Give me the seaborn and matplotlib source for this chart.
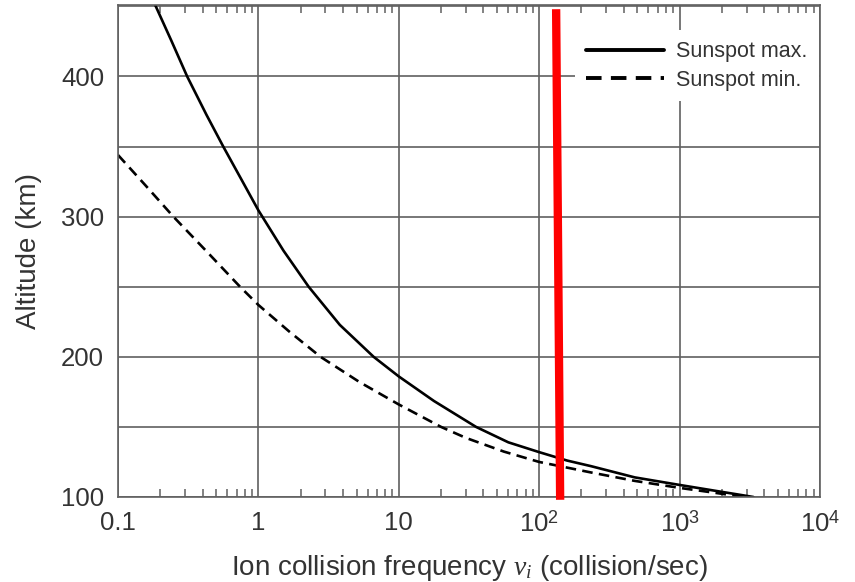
import matplotlib
matplotlib.use("Agg")
import matplotlib.pyplot as plt
import matplotlib.ticker as mticker
import seaborn as sns
import pandas as pd
import numpy as np

# Data
solid_freq = [0.184, 0.24, 0.311, 0.427, 0.562, 0.759, 1.0, 1.51, 2.28, 3.8, 6.62, 10,
              17.8, 35.5, 60.3, 100, 158, 234, 479, 1000, 1778, 3357]
solid_alt = [451, 425.5, 400, 372.6, 350, 326.3, 304.5, 275.7, 250, 222.8, 200, 186,
             168.5, 150, 139, 132, 126, 122, 114, 108.6, 104.5, 100]
dashed_freq = [0.1, 0.158, 0.248, 0.427, 0.74, 1.0, 1.66, 2.77, 5.25, 10, 20, 30, 56,
               100, 234, 479, 1000, 1700, 2884]
dashed_alt = [344, 322, 300, 275.3, 250, 237, 218, 200, 182, 166, 150, 142.2, 132.4,
              125, 117.5, 111.5, 106.5, 103.3, 100]
marker_freq = [132, 141]
marker_alt = [448, 98]

series_labels = ["Sunspot max.", "Sunspot min."]
x_ticks = [0.1, 1, 10, 100, 1000, 10000]
x_tick_labels = ["0.1", "1", "10", r"$10^2$", r"$10^3$", r"$10^4$"]
y_grid = [100, 150, 200, 250, 300, 350, 400, 450]
y_tick_labels = ["100", "", "200", "", "300", "", "400", ""]

sns.set_style("white")
plt.rcParams['font.family'] = ['Liberation Sans', 'DejaVu Sans']
plt.rcParams['mathtext.fontset'] = 'custom'
plt.rcParams['mathtext.rm'] = 'Liberation Sans'
plt.rcParams['mathtext.it'] = 'Liberation Serif:italic'

fig = plt.figure(figsize=(8.55, 5.82), dpi=100)
ax = fig.add_axes([118/855, 1-497/582, (820-118)/855, (497-5)/582])

df_max = pd.DataFrame({"freq": solid_freq, "alt": solid_alt})
df_min = pd.DataFrame({"freq": dashed_freq, "alt": dashed_alt})

sns.lineplot(data=df_max, x="freq", y="alt", ax=ax, color="black", lw=1.9,
             label=series_labels[0], sort=False, estimator=None)
sns.lineplot(data=df_min, x="freq", y="alt", ax=ax, color="black", lw=1.9,
             label=series_labels[1], sort=False, estimator=None)
ax.lines[1].set_dashes([4, 2.4])
for ln in ax.lines[:2]:
    ln.set_solid_joinstyle("round")
    ln.set_dash_joinstyle("round")

ax.plot(marker_freq, marker_alt, color="#ff0000", lw=6, clip_on=False,
        solid_capstyle="butt", zorder=6)

ax.set_xscale("log")
ax.set_xlim(0.1, 10000)
ax.set_ylim(100, 451)

gc = "#606060"
ax.xaxis.set_major_locator(mticker.FixedLocator(x_ticks))
ax.xaxis.set_major_formatter(mticker.FixedFormatter(x_tick_labels))
ax.xaxis.set_minor_locator(mticker.LogLocator(base=10, subs=np.arange(2, 10)))
ax.xaxis.set_minor_formatter(mticker.NullFormatter())
ax.yaxis.set_major_locator(mticker.FixedLocator(y_grid))
ax.yaxis.set_major_formatter(mticker.FixedFormatter(y_tick_labels))

ax.grid(True, which="major", color=gc, lw=1.2)
ax.tick_params(axis="both", which="major", length=0, labelsize=18.5,
               labelcolor="#333333", pad=10)
ax.tick_params(axis="x", which="minor", direction="in", length=6, width=1.1,
               color=gc, top=True, bottom=True)
for s in ax.spines.values():
    s.set_color(gc)
    s.set_linewidth(1.2)

ax.set_xlabel(r"Ion collision frequency $\nu_i$ (collision/sec)", fontsize=20,
              color="#333333", labelpad=12)
ax.set_ylabel("Altitude (km)", fontsize=20, color="#333333", labelpad=14)

leg = ax.legend(loc="upper right", bbox_to_anchor=(0.998, 0.9486), fontsize=15.5,
                frameon=True, fancybox=False, framealpha=1, edgecolor="none",
                facecolor="white", handlelength=3.6, handletextpad=0.6,
                labelspacing=0.35, borderpad=0.5, borderaxespad=0.0)
for t in leg.get_texts():
    t.set_color("#333333")
for h in leg.get_lines():
    h.set_linewidth(2.8)

fig.savefig("out.png", dpi=100)
